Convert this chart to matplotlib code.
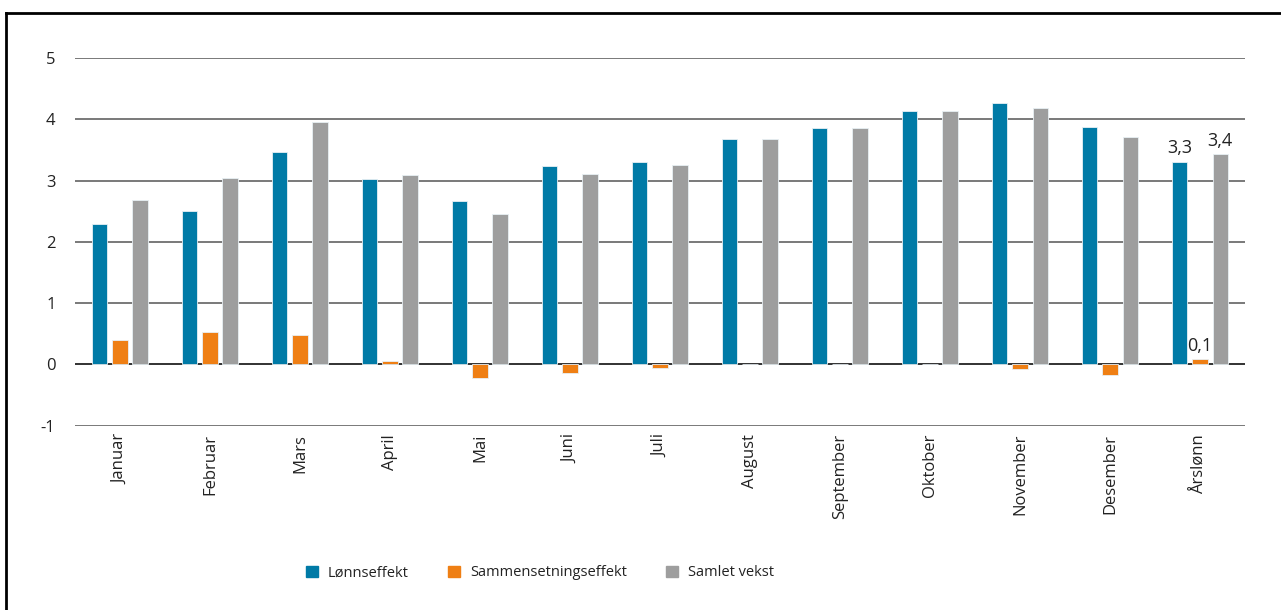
import matplotlib
matplotlib.use("Agg")
import matplotlib.pyplot as plt
import numpy as np
from matplotlib.lines import Line2D

categories = ["Januar", "Februar", "Mars", "April", "Mai", "Juni", "Juli",
              "August", "September", "Oktober", "November", "Desember", "Årslønn"]
lonnseffekt = [2.29, 2.51, 3.46, 3.03, 2.67, 3.24, 3.30, 3.68, 3.86, 4.13, 4.26, 3.87, 3.31]
sammensetning = [0.39, 0.52, 0.48, 0.05, -0.22, -0.14, -0.06, 0.0, 0.0, 0.01, -0.07, -0.17, 0.08]
samlet = [2.68, 3.04, 3.95, 3.09, 2.46, 3.11, 3.25, 3.68, 3.86, 4.13, 4.18, 3.71, 3.43]
series_names = ["Lønnseffekt", "Sammensetningseffekt", "Samlet vekst"]
colors = ["#007AA6", "#EF7F14", "#9E9E9E"]
labels_last = ["3,3", "0,1", "3,4"]
yticks = [-1, 0, 1, 2, 3, 4, 5]

plt.rcParams['font.family'] = ['Open Sans', 'DejaVu Sans']

fig = plt.figure(figsize=(12.81, 6.10), dpi=100)
ax = fig.add_axes([0.0585, 0.3023, 0.9134, 0.6026])

x = np.arange(len(categories))
w = 0.172
off = 0.225
data = [lonnseffekt, sammensetning, samlet]
bars = []
for i, (vals, c) in enumerate(zip(data, colors)):
    b = ax.bar(x + (i - 1) * off, vals, width=w, color=c, edgecolor="#E8F0F4",
               linewidth=0.6, zorder=3, label=series_names[i])
    bars.append(b)

# data labels on the last group
for i, b in enumerate(bars):
    rect = b[-1]
    ax.annotate(labels_last[i], (rect.get_x() + rect.get_width() / 2, rect.get_height()),
                xytext=(0, 3), textcoords="offset points", ha="center", va="bottom",
                fontsize=13, color="#222222", zorder=5)

ax.set_xlim(-0.5, len(categories) - 0.5)
ax.set_ylim(-1, 5)
ax.set_yticks(yticks)
ax.set_yticklabels([str(t) for t in yticks])
for t in yticks:
    ax.axhline(t, color="#222222" if t == 0 else "#555555",
               lw=1.3 if t == 0 else 1.1, zorder=2)
for s in ax.spines.values():
    s.set_visible(False)
ax.tick_params(axis="y", length=0, pad=14, labelsize=12, colors="#222222")
ax.set_xticks(x)
ax.set_xticklabels(categories, rotation=90, fontsize=12, color="#222222")
ax.tick_params(axis="x", length=0, pad=6)

handles = [plt.Rectangle((0, 0), 1, 1, color=c) for c in colors]
fig.legend(handles, series_names, loc="center", bbox_to_anchor=(0.4215, 0.0607),
           ncol=3, frameon=False, fontsize=10.5, handlelength=0.8, handleheight=0.8,
           columnspacing=2.7, handletextpad=0.7, labelcolor="#222222")

# outer border (left and top)
fig.add_artist(Line2D([0.0047, 0.0047], [0, 0.979], transform=fig.transFigure, color="black", lw=2))
fig.add_artist(Line2D([0.0047, 1.0], [0.979, 0.979], transform=fig.transFigure, color="black", lw=2))

fig.savefig("out.png", dpi=100, facecolor="white")
